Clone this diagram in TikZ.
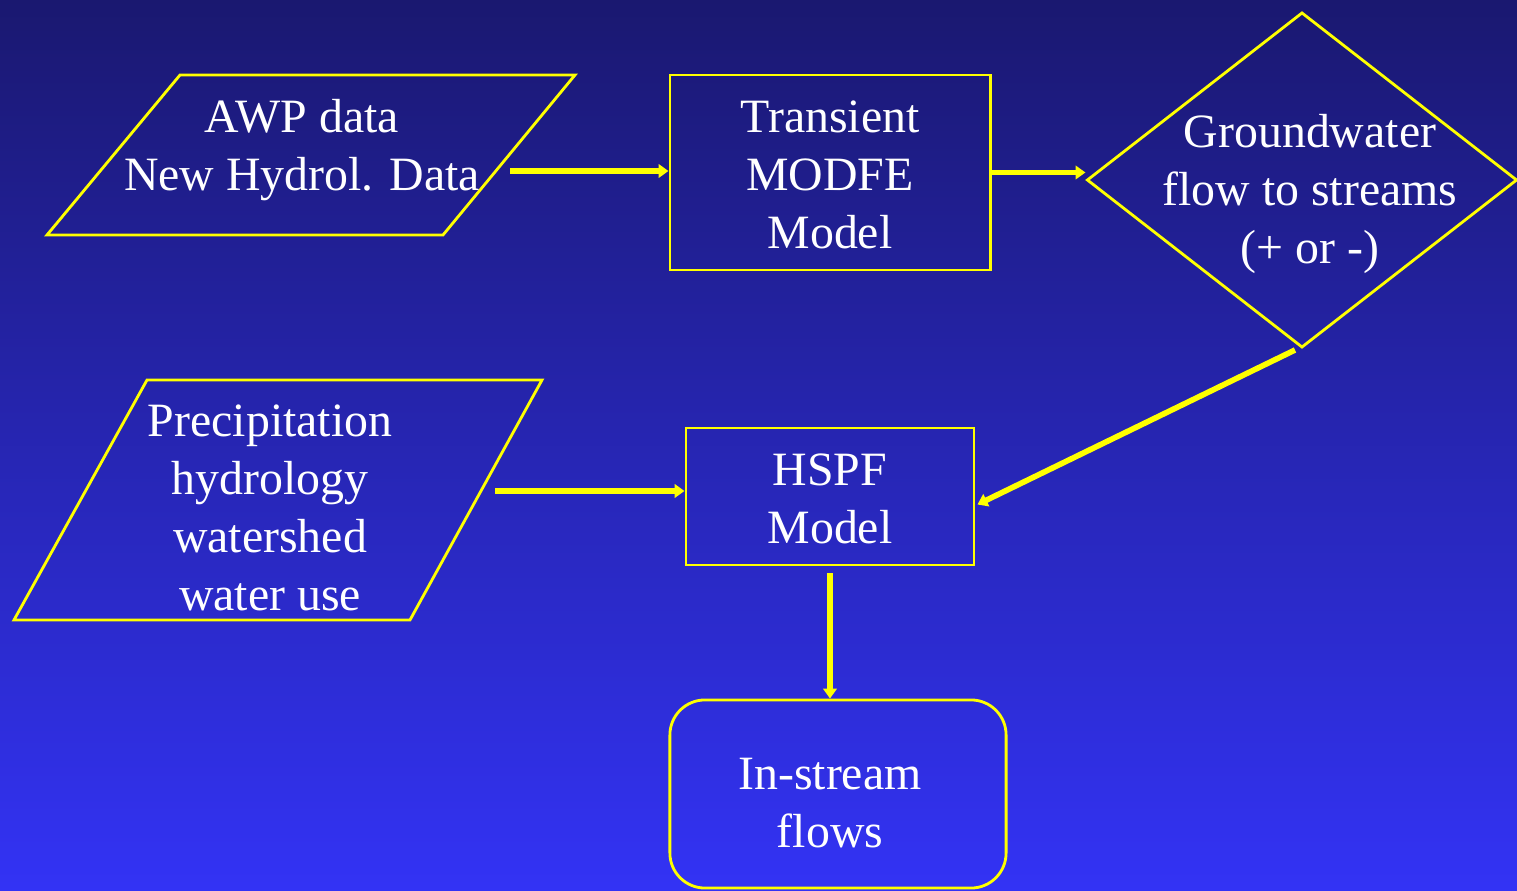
\documentclass[tikz,border=0pt]{standalone}
\usepackage{fontspec}
\setmainfont{Liberation Serif}
\usetikzlibrary{arrows.meta,shapes.geometric,positioning,calc}

\definecolor{bgtop}{RGB}{26,24,112}
\definecolor{bgbot}{RGB}{51,51,245}
\definecolor{ylw}{RGB}{255,255,0}

\tikzset{
  label/.style={text=white, align=center, inner sep=0pt,
    font=\fontsize{13.6}{16.5}\selectfont},
  box/.style={draw=ylw, line width=0.8pt, inner sep=0pt},
  flow/.style={draw=ylw, line width=1.6pt,
    -{Triangle[length=2.8pt,width=3.8pt]}},
}

\begin{document}
\begin{tikzpicture}[x=0.01cm,y=-0.01cm]
  % background
  \shade[top color=bgtop, bottom color=bgbot] (0,0) rectangle (1517,891);
  \useasboundingbox (0,0) rectangle (1517,891);

  % inputs
  \draw[box] (47,235) -- (180,75) -- (575,75) -- (443,235) -- cycle;
  \node[label] (awp) at (302,150) {AWP data\\New Hydrol. Data};
  \draw[box] (14,620) -- (147,380) -- (542,380) -- (410,620) -- cycle;
  \node[label] (prec) at (270,508) {Precipitation\\hydrology\\watershed\\water use};

  % models
  \node[box, minimum width=3.2cm, minimum height=1.95cm] (tmodel) at (830,172.5) {};
  \node[label] (ttext) at (830,175) {Transient\\MODFE\\Model};
  \node[box, draw=ylw, diamond, minimum width=4.3cm, minimum height=3.35cm] (gw) at (1302,180) {};
  \node[label] (gwtext) at (1310,194) {Groundwater\\flow to streams\\(+ or -)};
  \node[box, minimum width=2.88cm, minimum height=1.37cm] (hspf) at (830,496.5) {};
  \node[label] (htext) at (830,499) {HSPF\\Model};

  % output
  \node[box, rounded corners=0.35cm, minimum width=3.36cm, minimum height=1.88cm] (flows) at (838,794) {};
  \node[label] (flowtext) at (830,803) {In-stream\\flows};

  % connectors
  \coordinate (awpout) at (510,171);
  \coordinate (precout) at (495,491);
  \draw[flow] (awpout) -- (awpout -| tmodel.west);
  \draw[flow] (tmodel.east) -- (tmodel.east -| gw.west);
  \draw[flow] ($(gw.south)+(-7,1)$) -- ($(hspf.east)+(2,8)$);
  \draw[flow] (precout) -- (precout -| hspf.west);
  \draw[flow] ($(hspf.south)+(0,7)$) -- (hspf.south |- flows.north);
\end{tikzpicture}
\end{document}
